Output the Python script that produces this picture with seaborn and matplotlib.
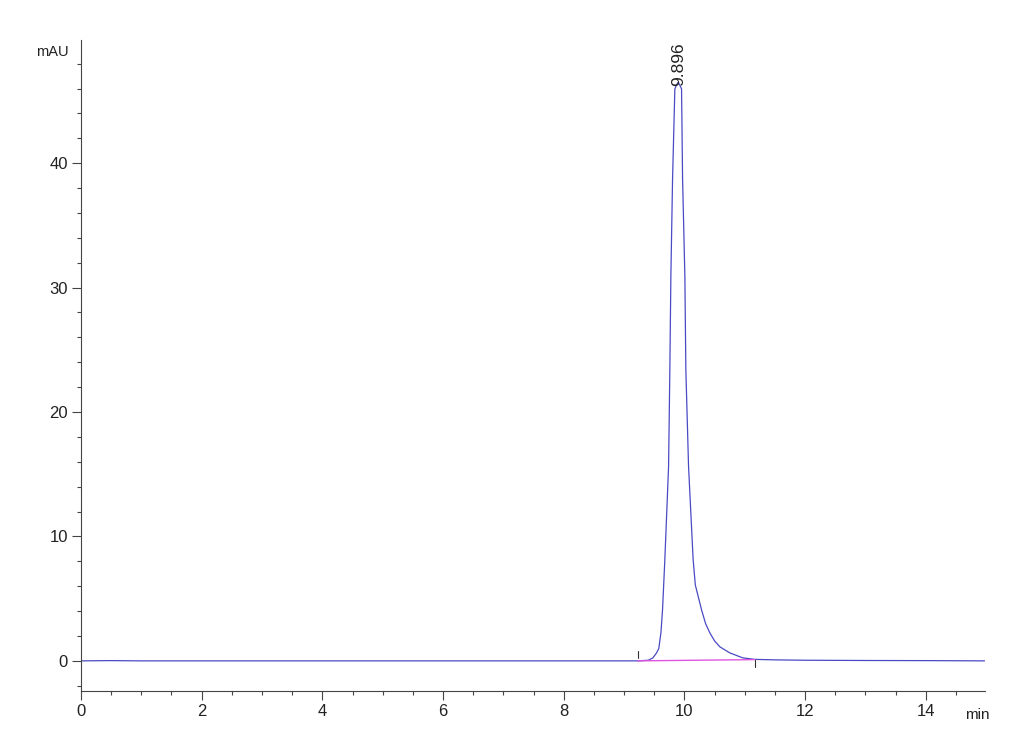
import matplotlib
matplotlib.use('Agg')
import matplotlib.pyplot as plt
import seaborn as sns
import pandas as pd
from matplotlib.ticker import MultipleLocator

# chromatogram trace (min, mAU)
time_min = [0.0, 0.5, 1.0, 2.0, 3.0, 4.0, 5.0, 6.0, 7.0, 8.0, 8.8, 9.228, 9.40,
            9.477, 9.538, 9.575, 9.61, 9.637, 9.675, 9.737, 9.758, 9.775, 9.803,
            9.841, 9.87, 9.896, 9.92, 9.952, 9.969, 10.007, 10.023, 10.068, 10.144,
            10.18, 10.283, 10.35, 10.421, 10.5, 10.586, 10.752, 10.967, 11.166,
            11.5, 12.0, 13.0, 14.0, 14.98]
signal_mau = [0.0, 0.02, 0.0, 0.0, 0.0, 0.0, 0.0, 0.0, 0.0, 0.0, 0.0, 0.0, 0.05,
              0.24, 0.64, 1.0, 2.25, 4.11, 8.13, 15.62, 23.43, 30.92, 38.73,
              45.97, 46.3, 46.5, 46.3, 45.97, 38.73, 30.92, 23.43, 15.62, 8.13,
              6.1, 4.11, 3.0, 2.25, 1.6, 1.13, 0.64, 0.24, 0.12,
              0.08, 0.05, 0.03, 0.02, 0.0]

# integration baseline and peak label
baseline_t = [9.228, 11.166]
baseline_y = [0.0, 0.1]
peak_rt = 9.896
peak_top = 46.5

df = pd.DataFrame({'time': time_min, 'signal': signal_mau})

sns.set_style('ticks')
plt.rcParams['font.family'] = ['Liberation Sans', 'DejaVu Sans']

fig = plt.figure(figsize=(10.3, 7.55), dpi=100)
ax = fig.add_axes([0.0786, 0.0848, 0.8777, 0.8622])

sns.lineplot(data=df, x='time', y='signal', estimator=None, sort=False,
             color='#4a4ac4', linewidth=0.9, ax=ax)
ax.plot(baseline_t, baseline_y, color='#e055e0', linewidth=1.0)
for bt, by, d in zip(baseline_t, baseline_y, [0.5, -0.3]):
    ax.plot([bt, bt], [by - 0.3 + d, by + 0.3 + d], color='#333333', linewidth=0.8)

ax.text(peak_rt, peak_top - 0.3, f'{peak_rt:.3f}', rotation=90, ha='center', va='bottom',
        fontsize=12.5, color='#222222')

ax.set_xlim(0, 14.98)
ax.set_ylim(-2.42, 49.9)
ax.xaxis.set_major_locator(MultipleLocator(2))
ax.xaxis.set_minor_locator(MultipleLocator(0.5))
ax.yaxis.set_major_locator(MultipleLocator(10))
ax.yaxis.set_minor_locator(MultipleLocator(2))
ax.tick_params(which='major', direction='out', length=6.5, width=0.8, color='#444444',
               labelsize=12, labelcolor='#222222', pad=3)
ax.tick_params(which='minor', direction='out', length=3.2, width=0.8, color='#444444')
ax.set_xlabel('')
ax.set_ylabel('')

sns.despine(ax=ax)
for s in ['left', 'bottom']:
    ax.spines[s].set_color('#444444')
    ax.spines[s].set_linewidth(0.8)

ax.text(-0.014, 0.9816, 'mAU', transform=ax.transAxes, ha='right', va='center',
        fontsize=10.5, color='#222222')
ax.text(0.978, -0.037, 'min', transform=ax.transAxes, ha='left', va='center',
        fontsize=11, color='#222222')

fig.savefig('out.png', dpi=100)
